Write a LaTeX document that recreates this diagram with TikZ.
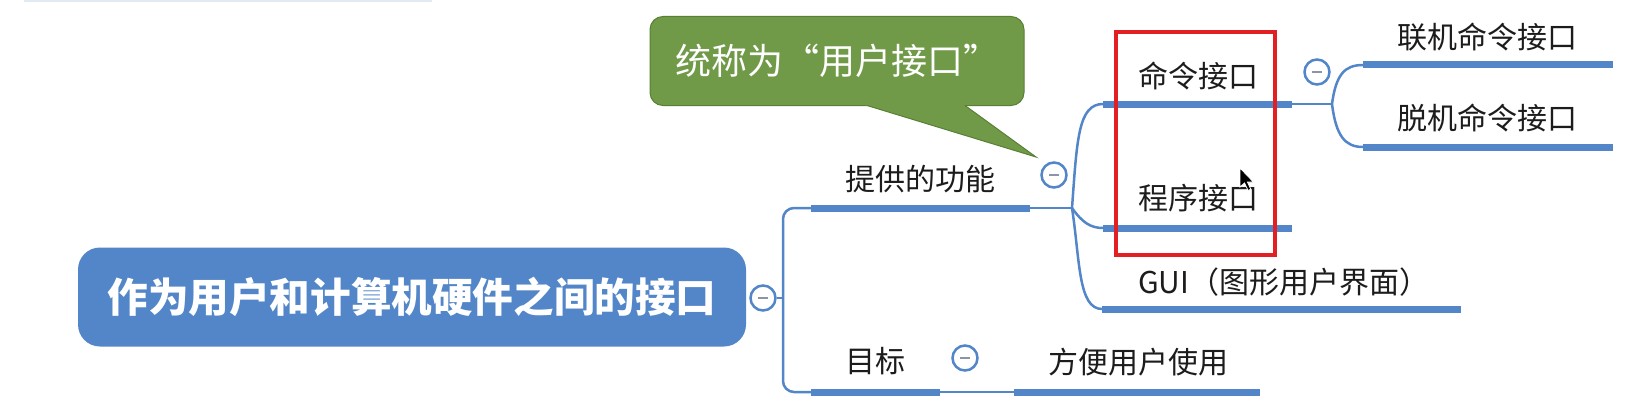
\documentclass[tikz,border=0pt]{standalone}
\usepackage{fontspec}
\newfontfamily\cjk{Noto Sans CJK SC}
\definecolor{mblue}{RGB}{82,134,200}
\definecolor{txt}{RGB}{28,28,28}
\definecolor{gfill}{RGB}{112,154,72}
\definecolor{gborder}{RGB}{88,128,52}
\definecolor{rbox}{RGB}{226,32,36}
\definecolor{dashgray}{RGB}{140,148,172}
\definecolor{faint}{RGB}{226,234,244}
\begin{document}
\begin{tikzpicture}[x=1pt,y=-1pt,
  uline/.style={draw=mblue,line width=7pt},
  conn/.style={draw=mblue,line width=2.5pt},
  fold/.style={circle,draw=mblue,line width=2.5pt,fill=white,minimum size=25pt,inner sep=0pt},
  folddash/.style={draw=dashgray,line width=2pt},
  lbl/.style={font=\cjk\fontsize{30}{30}\selectfont,text=txt,inner sep=0pt,anchor=west},
  rootbox/.style={rounded corners=22pt,fill=mblue,minimum width=668pt,minimum height=99pt,inner sep=0pt,text=white,font=\cjk\bfseries\fontsize{40.6}{41}\selectfont},
  bubble/.style={rounded corners=13pt,fill=gfill,draw=gborder,line width=1pt,minimum width=374pt,minimum height=89pt,inner sep=0pt,text=white,font=\cjk\fontsize{36}{36}\selectfont},
  redframe/.style={draw=rbox,line width=4pt},
]
\useasboundingbox (0,0) rectangle (1631,420);
\fill[faint] (24,0) rectangle (432,2);

% root
\node[rootbox] (root) at (412,297) {作为用户和计算机硬件之间的接口};
\node[fold] (c0) at (763,298) {};
\draw[folddash] ([xshift=-5pt]c0.center) -- ([xshift=5pt]c0.center);

% first level coordinates
\coordinate (vt) at (783,208);
\coordinate (vb) at (783,392);
\coordinate (u1s) at (811,208);
\coordinate (u1e) at (1030,208);
\coordinate (u2s) at (811,392);
\coordinate (u2e) at (940,392);
\draw[conn] (c0.east) -- (c0.east -| vt);
\draw[conn,rounded corners=11pt] (u1s) -- (vt) -- (vb) -- (u2s);
\draw[uline] (u1s) -- (u1e);
\draw[uline] (u2s) -- (u2e);
\node[lbl] (t1) at (845,179) {提供的功能};
\node[lbl] (t2) at (845,361) {目标};

% 提供的功能 children
\node[fold] (c1) at (1054,175) {};
\draw[folddash] ([xshift=-5pt]c1.center) -- ([xshift=5pt]c1.center);
\coordinate (f1) at (1072,208);
\draw[conn] (u1e) -- (f1);
\coordinate (a1s) at (1103,104);
\coordinate (a1e) at (1292,104);
\coordinate (a2s) at (1103,228);
\coordinate (a2e) at (1292,228);
\coordinate (a3s) at (1102,309);
\coordinate (a3e) at (1461,309);
\draw[conn] (f1) .. controls (1077,140) and (1078,104) .. (a1s);
\draw[conn] (f1) .. controls (1082,222) and (1090,228) .. (a2s);
\draw[conn] (f1) .. controls (1080,260) and (1078,309) .. (a3s);
\draw[uline] (a1s) -- (a1e);
\draw[uline] (a2s) -- (a2e);
\draw[uline] (a3s) -- (a3e);
\node[lbl] (ta1) at (1138,76) {命令接口};
\node[lbl] (ta2) at (1138,198) {程序接口};
\node[lbl] (ta3) at (1138,282) {GUI（图形用户界面）};

% 命令接口 children
\node[fold] (c2) at (1317,72) {};
\draw[folddash] ([xshift=-5pt]c2.center) -- ([xshift=5pt]c2.center);
\coordinate (f2) at (1332,104);
\draw[conn] (a1e) -- (f2);
\coordinate (b1s) at (1363,65);
\coordinate (b1e) at (1613,65);
\coordinate (b2s) at (1363,147);
\coordinate (b2e) at (1613,147);
\draw[conn] (f2) .. controls (1336,74) and (1345,65) .. (b1s);
\draw[conn] (f2) .. controls (1336,136) and (1345,147) .. (b2s);
\draw[uline] (b1s) -- (b1e);
\draw[uline] (b2s) -- (b2e);
\node[lbl] (tb1) at (1397,37) {联机命令接口};
\node[lbl] (tb2) at (1397,118) {脱机命令接口};

% 目标 child
\node[fold] (c3) at (965,358) {};
\draw[folddash] ([xshift=-5pt]c3.center) -- ([xshift=5pt]c3.center);
\coordinate (d1s) at (1014,392);
\coordinate (d1e) at (1260,392);
\draw[conn] (u2e) -- (d1s);
\draw[uline] (d1s) -- (d1e);
\node[lbl] (td1) at (1048,362) {方便用户使用};

% callout bubble
\node[bubble] (bub) at (837,61) {统称为“用户接口”};
\coordinate (tip) at (1036,157);
\coordinate (tl) at (867,105.5);
\coordinate (tr) at (965,105.5);
\fill[gfill] (849,100) -- (957.4,100) -- (tip) -- cycle;
\draw[gborder,line width=1pt] (tl) -- (tip) -- (tr);

% red frame
\draw[redframe] (1116,32) rectangle (1275,255);

% mouse cursor
\coordinate (cur) at (1240,168);
\filldraw[fill=black,draw=white,line width=0.8pt] (cur) -- ++(0,19) -- ++(4.5,-4) -- ++(3.5,7.5) -- ++(2.8,-1.3) -- ++(-3.4,-7.2) -- ++(6,0) -- cycle;
\end{tikzpicture}
\end{document}
